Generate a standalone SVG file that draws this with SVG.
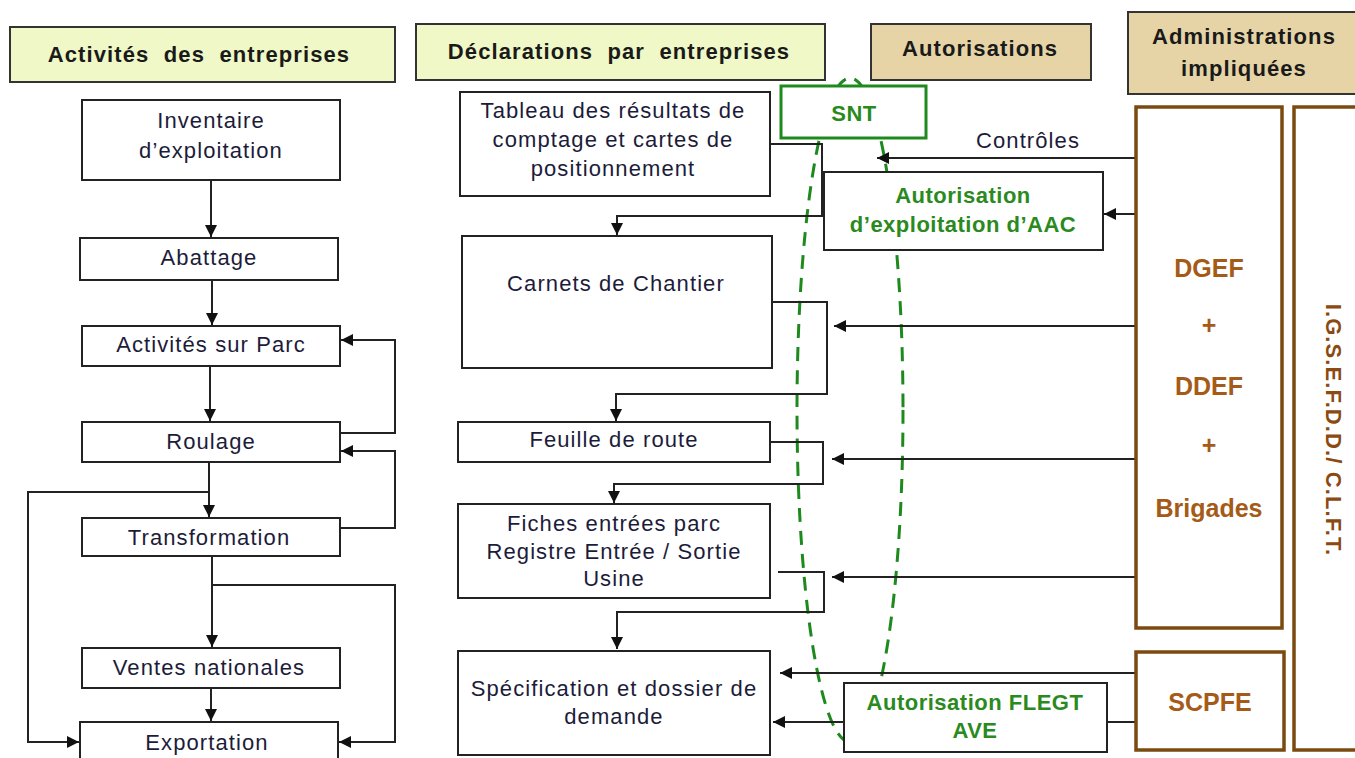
<svg xmlns="http://www.w3.org/2000/svg" width="1355" height="758" viewBox="0 0 1355 758">
<defs>
<marker id="ah" markerUnits="userSpaceOnUse" markerWidth="14" markerHeight="14" refX="12" refY="6" orient="auto">
<path d="M0,0 L12,6 L0,12 Z" fill="#111"/>
</marker>
<style>
.box{fill:#fff;stroke:#222;stroke-width:2}
.hg{fill:#EFF8C6;stroke:#333;stroke-width:2}
.ht{fill:#E6D4A6;stroke:#333;stroke-width:2}
.ab{fill:#fff;stroke:#7A4A10;stroke-width:3.5}
.gb{fill:#fff;stroke:#1E8A1E;stroke-width:3}
.t{font-family:"Liberation Sans",Arial,sans-serif;font-size:22px;letter-spacing:1.1px;fill:#1c1c3a;text-anchor:middle}
.h{font-family:"Liberation Sans",Arial,sans-serif;font-size:22px;letter-spacing:1.1px;font-weight:bold;fill:#1a1a1a;text-anchor:middle;white-space:pre}
.g{font-family:"Liberation Sans",Arial,sans-serif;font-size:22px;letter-spacing:0.5px;font-weight:bold;fill:#2A8A1E;text-anchor:middle}
.a{font-family:"Liberation Sans",Arial,sans-serif;font-size:25px;font-weight:bold;fill:#A55B18;text-anchor:middle}
.c{fill:none;stroke:#222;stroke-width:2}
.ca{fill:none;stroke:#222;stroke-width:2;marker-end:url(#ah)}
</style>
</defs>
<rect width="1355" height="758" fill="#fff"/>

<!-- green dashed ellipse -->
<ellipse id="flux" cx="850" cy="410" rx="53" ry="332" fill="none" stroke="#1E8A1E" stroke-width="3" stroke-dasharray="14,9"/>

<!-- headers -->
<g id="h1"><rect class="hg" x="10" y="27" width="385" height="55"/><text class="h" x="199" y="62">Activités  des  entreprises</text></g>
<g id="h2"><rect class="hg" x="416" y="24" width="409" height="56"/><text class="h" x="619" y="59">Déclarations  par  entreprises</text></g>
<g id="h3"><rect class="ht" x="871" y="24" width="220" height="56"/><text class="h" x="980" y="56">Autorisations</text></g>
<g id="h4"><rect class="ht" x="1128" y="12" width="240" height="82"/><text class="h" x="1244" y="44">Administrations</text><text class="h" x="1244" y="76">impliquées</text></g>

<!-- connectors -->
<g id="connectors">
<line class="ca" x1="211" y1="180" x2="211" y2="237"/>
<line class="ca" x1="212" y1="280" x2="212" y2="325"/>
<line class="ca" x1="210" y1="366" x2="210" y2="421"/>
<line class="ca" x1="209" y1="462" x2="209" y2="517"/>
<polyline class="ca" points="209,492 28,492 28,742 79,742"/>
<polyline class="ca" points="340,433 395,433 395,340 341,340"/>
<polyline class="ca" points="340,528 395,528 395,451 341,451"/>
<line class="ca" x1="212" y1="556" x2="212" y2="647"/>
<polyline class="ca" points="212,585 395,585 395,742 339,742"/>
<line class="ca" x1="211" y1="688" x2="211" y2="721"/>

<polyline class="ca" points="770,144 822,144 822,216 617,216 617,235"/>
<polyline class="ca" points="772,302 827,302 827,394 616,394 616,421"/>
<polyline class="ca" points="770,442 823,442 823,484 614,484 614,503"/>
<polyline class="ca" points="778,572 824,572 824,612 617,612 617,649"/>

<line class="ca" x1="1135" y1="158" x2="877" y2="158"/>
<line class="ca" x1="1135" y1="214" x2="1104" y2="214"/>
<line class="ca" x1="1135" y1="326" x2="834" y2="326"/>
<line class="ca" x1="1135" y1="459" x2="832" y2="459"/>
<line class="ca" x1="1135" y1="577" x2="832" y2="577"/>
<line class="ca" x1="1135" y1="673" x2="780" y2="673"/>
<line class="c" x1="1135" y1="722" x2="1107" y2="722"/>
<line class="ca" x1="844" y1="722" x2="773" y2="722"/>
<text class="t" x="1028" y="148">Contrôles</text>
</g>

<!-- left column -->
<g id="inventaire"><rect class="box" x="82" y="100" width="258" height="80"/><text class="t" x="211" y="128">Inventaire</text><text class="t" x="211" y="158">d’exploitation</text></g>
<g id="abattage"><rect class="box" x="80" y="238" width="258" height="42"/><text class="t" x="209" y="265">Abattage</text></g>
<g id="parc"><rect class="box" x="82" y="326" width="258" height="40"/><text class="t" x="211" y="352">Activités sur Parc</text></g>
<g id="roulage"><rect class="box" x="82" y="422" width="258" height="40"/><text class="t" x="211" y="449">Roulage</text></g>
<g id="transformation"><rect class="box" x="82" y="518" width="258" height="38"/><text class="t" x="209" y="545">Transformation</text></g>
<g id="ventes"><rect class="box" x="82" y="648" width="258" height="40"/><text class="t" x="209" y="675">Ventes nationales</text></g>
<g id="exportation"><rect class="box" x="80" y="722" width="258" height="50"/><text class="t" x="207" y="750">Exportation</text></g>

<!-- middle column -->
<g id="tableau"><rect class="box" x="460" y="92" width="310" height="104"/><text class="t" x="613" y="118">Tableau des résultats de</text><text class="t" x="613" y="147">comptage et cartes de</text><text class="t" x="613" y="176">positionnement</text></g>
<g id="carnets"><rect class="box" x="462" y="236" width="310" height="132"/><text class="t" x="616" y="291">Carnets de Chantier</text></g>
<g id="feuille"><rect class="box" x="458" y="422" width="312" height="40"/><text class="t" x="614" y="447">Feuille de route</text></g>
<g id="fiches"><rect class="box" x="458" y="504" width="312" height="94"/><text class="t" x="614" y="531">Fiches entrées parc</text><text class="t" x="614" y="559">Registre Entrée / Sortie</text><text class="t" x="614" y="586">Usine</text></g>
<g id="specification"><rect class="box" x="458" y="651" width="312" height="104"/><text class="t" x="614" y="696">Spécification et dossier de</text><text class="t" x="614" y="724">demande</text></g>

<!-- autorisations -->
<g id="snt"><rect class="gb" x="781" y="86" width="145" height="52"/><text class="g" x="854" y="121">SNT</text></g>
<g id="aac"><rect class="box" x="824" y="172" width="279" height="78"/><text class="g" x="963" y="203">Autorisation</text><text class="g" x="963" y="232">d’exploitation d’AAC</text></g>
<g id="flegt"><rect class="box" x="844" y="683" width="263" height="69"/><text class="g" x="975" y="710">Autorisation FLEGT</text><text class="g" x="975" y="738">AVE</text></g>

<!-- administrations -->
<g id="dgef"><rect class="ab" x="1136" y="107" width="146" height="521"/>
<text class="a" x="1209" y="277">DGEF</text><text class="a" x="1209" y="334">+</text><text class="a" x="1209" y="395">DDEF</text><text class="a" x="1209" y="454">+</text><text class="a" x="1209" y="517">Brigades</text></g>
<g id="igsef"><rect class="ab" x="1294" y="107" width="70" height="643"/>
<text x="1326" y="430" transform="rotate(90 1326 430)" style="font-family:'Liberation Sans',Arial,sans-serif;font-size:22px;letter-spacing:1.1px;font-weight:bold;fill:#8B4A12;text-anchor:middle">I.G.S.E.F.D.D./ C.L.F.T.</text></g>
<g id="scpfe"><rect class="ab" x="1136" y="652" width="148" height="98"/><text class="a" x="1210" y="711">SCPFE</text></g>
</svg>
